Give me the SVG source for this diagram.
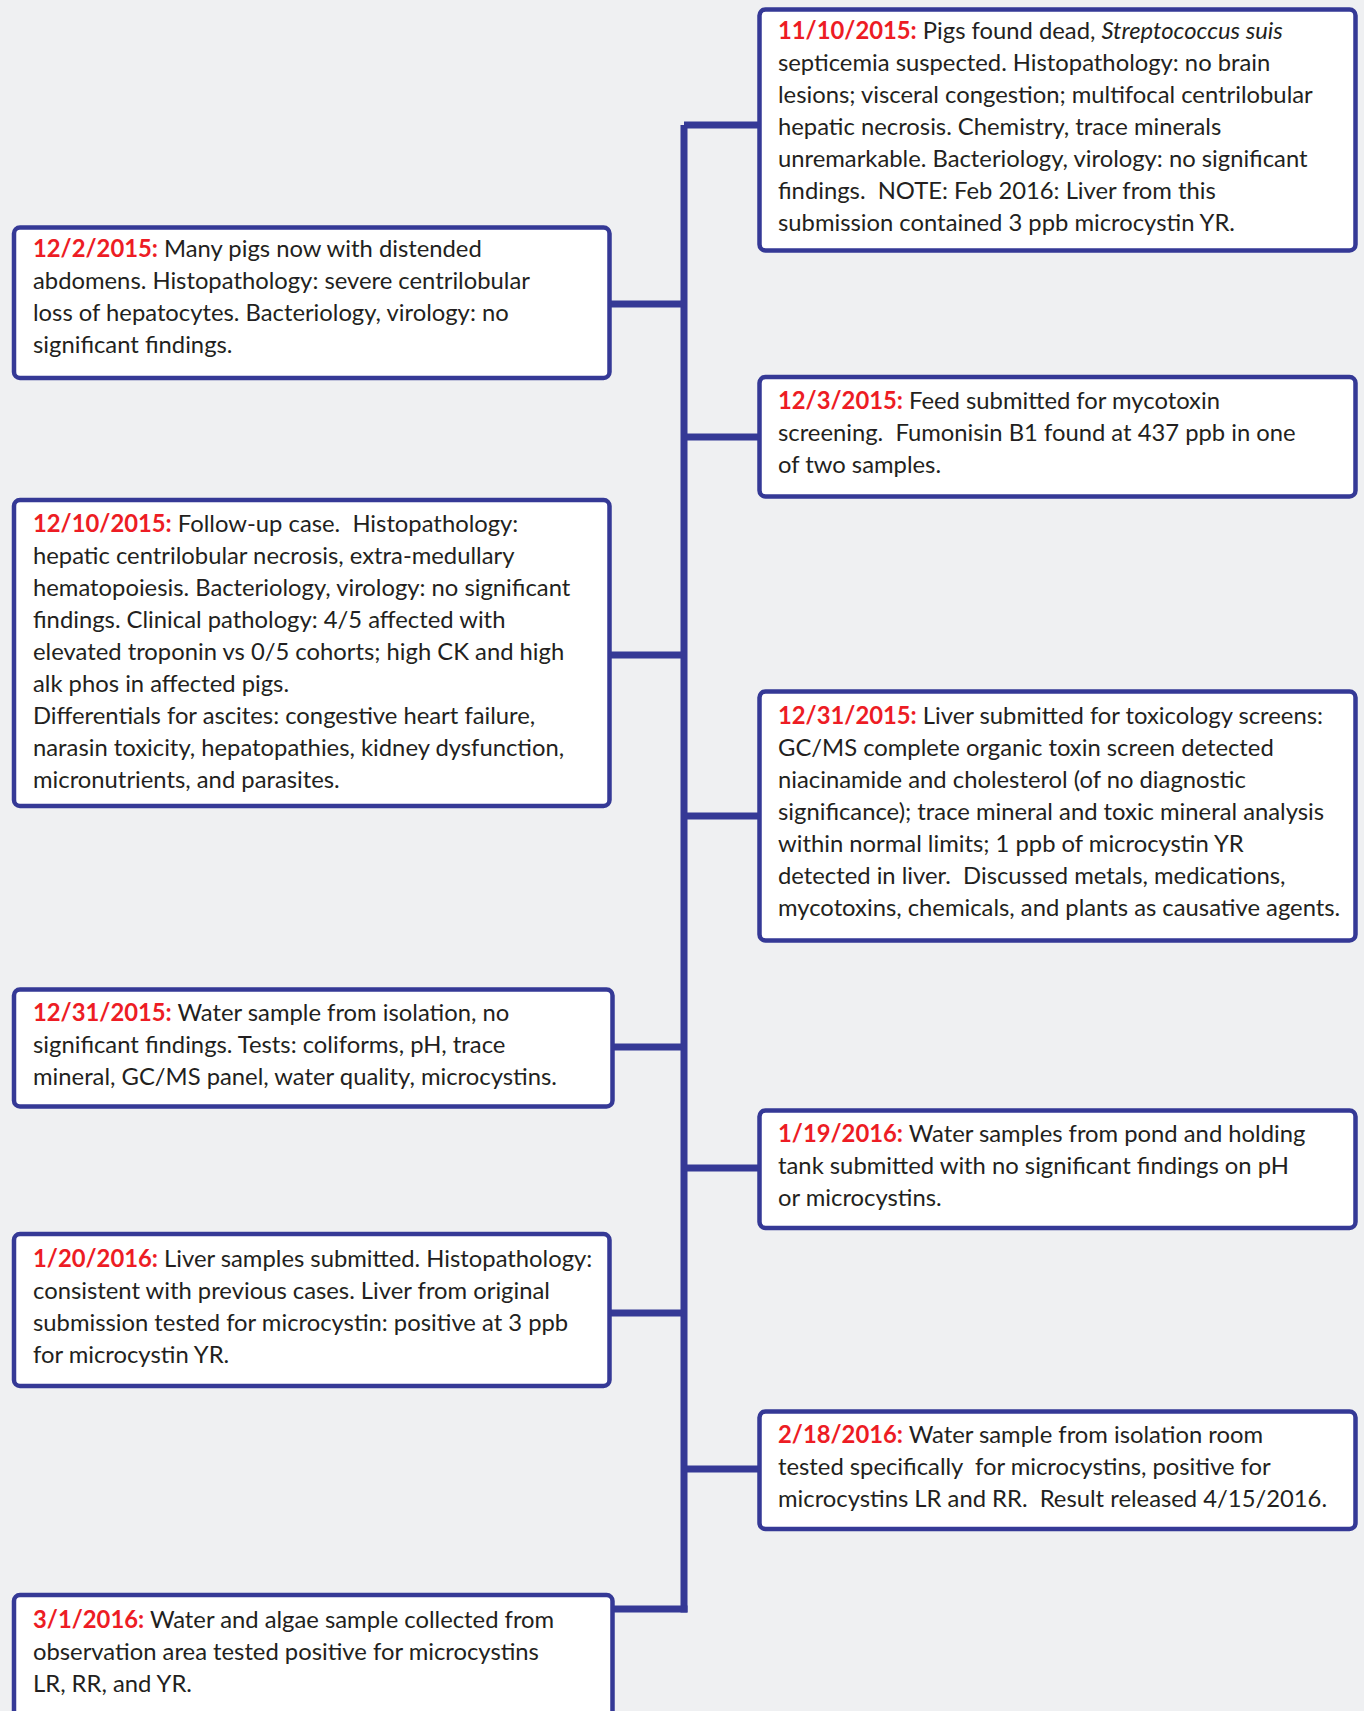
<svg xmlns="http://www.w3.org/2000/svg" width="1364" height="1711" viewBox="0 0 1364 1711">
<style>
.bg{fill:#eff0f2}
.box{fill:#ffffff;stroke:#353996;stroke-width:4.5}
.con{stroke:#353996;stroke-width:7;fill:none;stroke-linecap:butt}
text{font-family:Lato,"Open Sans","Liberation Sans",sans-serif;font-size:23.8px;fill:#231f20;white-space:pre}
.d{fill:#ed1c24;font-weight:bold}
.i{font-style:italic}
</style>
<rect class="bg" x="0" y="0" width="1364" height="1711"/>
<g id="connectors">
<line class="con" x1="684" y1="125" x2="684" y2="1612.5"/>
<line class="con" x1="684" y1="125" x2="760" y2="125"/>
<line class="con" x1="684" y1="437" x2="760" y2="437"/>
<line class="con" x1="684" y1="816" x2="760" y2="816"/>
<line class="con" x1="684" y1="1168" x2="760" y2="1168"/>
<line class="con" x1="684" y1="1469" x2="760" y2="1469"/>
<line class="con" x1="609" y1="304" x2="684" y2="304"/>
<line class="con" x1="609" y1="655" x2="684" y2="655"/>
<line class="con" x1="612" y1="1047" x2="684" y2="1047"/>
<line class="con" x1="609" y1="1313" x2="684" y2="1313"/>
<path class="con" d="M612 1609 H687.5"/>
</g>
<g id="n1">
<rect class="box" x="759.5" y="9.5" width="596" height="241" rx="6"/>
<text x="778" y="38.6"><tspan class="d">11/10/2015:</tspan> Pigs found dead, <tspan class="i">Streptococcus suis</tspan></text>
<text x="778" y="70.6">septicemia suspected. Histopathology: no brain</text>
<text x="778" y="102.6">lesions; visceral congestion; multifocal centrilobular</text>
<text x="778" y="134.6">hepatic necrosis. Chemistry, trace minerals</text>
<text x="778" y="166.6">unremarkable. Bacteriology, virology: no significant</text>
<text x="778" y="198.6">findings.  NOTE: Feb 2016: Liver from this</text>
<text x="778" y="230.6">submission contained 3 ppb microcystin YR.</text>
</g>
<g id="n2">
<rect class="box" x="14" y="227.5" width="595.5" height="150.5" rx="6"/>
<text x="33" y="257"><tspan class="d">12/2/2015:</tspan> Many pigs now with distended</text>
<text x="33" y="289">abdomens. Histopathology: severe centrilobular</text>
<text x="33" y="321">loss of hepatocytes. Bacteriology, virology: no</text>
<text x="33" y="353">significant findings.</text>
</g>
<g id="n3">
<rect class="box" x="759.5" y="377" width="596" height="119.5" rx="6"/>
<text x="778" y="408.6"><tspan class="d">12/3/2015:</tspan> Feed submitted for mycotoxin</text>
<text x="778" y="440.6">screening.  Fumonisin B1 found at 437 ppb in one</text>
<text x="778" y="472.6">of two samples.</text>
</g>
<g id="n4">
<rect class="box" x="14" y="500" width="595.5" height="306" rx="6"/>
<text x="33" y="532"><tspan class="d">12/10/2015:</tspan> Follow-up case.  Histopathology:</text>
<text x="33" y="564">hepatic centrilobular necrosis, extra-medullary</text>
<text x="33" y="596">hematopoiesis. Bacteriology, virology: no significant</text>
<text x="33" y="628">findings. Clinical pathology: 4/5 affected with</text>
<text x="33" y="660">elevated troponin vs 0/5 cohorts; high CK and high</text>
<text x="33" y="692">alk phos in affected pigs.</text>
<text x="33" y="724">Differentials for ascites: congestive heart failure,</text>
<text x="33" y="756">narasin toxicity, hepatopathies, kidney dysfunction,</text>
<text x="33" y="788">micronutrients, and parasites.</text>
</g>
<g id="n5">
<rect class="box" x="759.5" y="691.5" width="596" height="249" rx="6"/>
<text x="778" y="724"><tspan class="d">12/31/2015:</tspan> Liver submitted for toxicology screens:</text>
<text x="778" y="756">GC/MS complete organic toxin screen detected</text>
<text x="778" y="788">niacinamide and cholesterol (of no diagnostic</text>
<text x="778" y="820">significance); trace mineral and toxic mineral analysis</text>
<text x="778" y="852">within normal limits; 1 ppb of microcystin YR</text>
<text x="778" y="884">detected in liver.  Discussed metals, medications,</text>
<text x="778" y="916">mycotoxins, chemicals, and plants as causative agents.</text>
</g>
<g id="n6">
<rect class="box" x="14" y="989.5" width="598.5" height="117" rx="6"/>
<text x="33" y="1020.7"><tspan class="d">12/31/2015:</tspan> Water sample from isolation, no</text>
<text x="33" y="1052.7">significant findings. Tests: coliforms, pH, trace</text>
<text x="33" y="1084.7">mineral, GC/MS panel, water quality, microcystins.</text>
</g>
<g id="n7">
<rect class="box" x="759.5" y="1110.5" width="596" height="117.5" rx="6"/>
<text x="778" y="1141.8"><tspan class="d">1/19/2016:</tspan> Water samples from pond and holding</text>
<text x="778" y="1173.8">tank submitted with no significant findings on pH</text>
<text x="778" y="1205.8">or microcystins.</text>
</g>
<g id="n8">
<rect class="box" x="14" y="1234" width="595.5" height="152" rx="6"/>
<text x="33" y="1267.3"><tspan class="d">1/20/2016:</tspan> Liver samples submitted. Histopathology:</text>
<text x="33" y="1299.3">consistent with previous cases. Liver from original</text>
<text x="33" y="1331.3">submission tested for microcystin: positive at 3 ppb</text>
<text x="33" y="1363.3">for microcystin YR.</text>
</g>
<g id="n9">
<rect class="box" x="759.5" y="1411.5" width="596" height="117.5" rx="6"/>
<text x="778" y="1443"><tspan class="d">2/18/2016:</tspan> Water sample from isolation room</text>
<text x="778" y="1475">tested specifically  for microcystins, positive for</text>
<text x="778" y="1507">microcystins LR and RR.  Result released 4/15/2016.</text>
</g>
<g id="n10">
<rect class="box" x="14" y="1595" width="598.5" height="140" rx="6"/>
<text x="33" y="1628"><tspan class="d">3/1/2016:</tspan> Water and algae sample collected from</text>
<text x="33" y="1660">observation area tested positive for microcystins</text>
<text x="33" y="1692">LR, RR, and YR.</text>
</g>
</svg>
